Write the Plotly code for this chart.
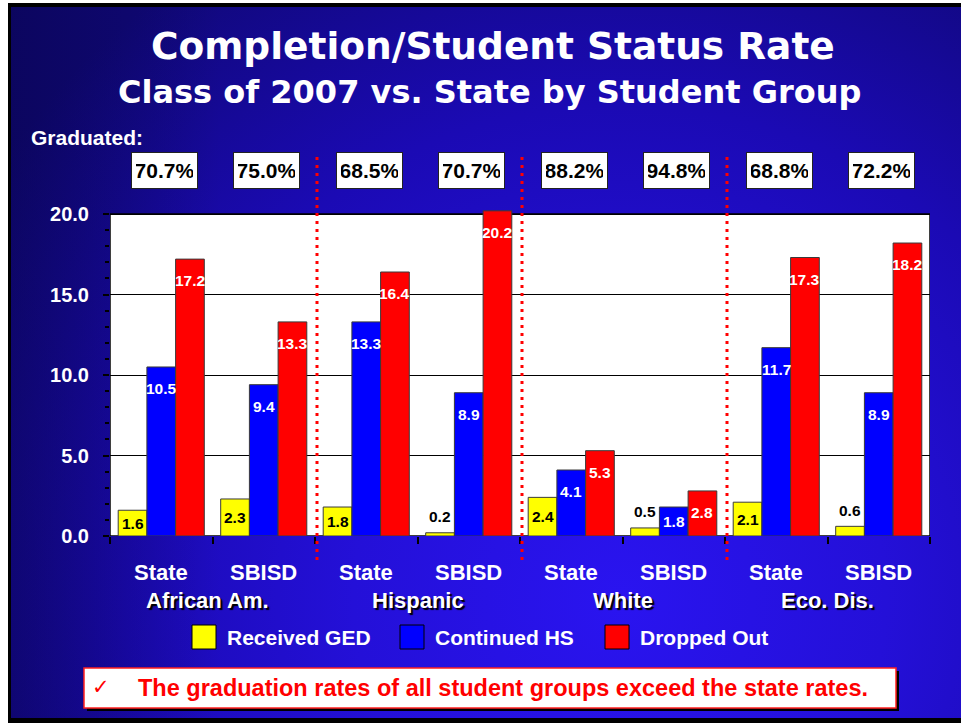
import base64
import plotly.graph_objects as go

# ---------------- data ----------------
groups = ["African Am.", "Hispanic", "White", "Eco. Dis."]
bar_labels = ["State", "SBISD", "State", "SBISD", "State", "SBISD", "State", "SBISD"]
graduated = [70.7, 75.0, 68.5, 70.7, 88.2, 94.8, 68.8, 72.2]
ged = [1.6, 2.3, 1.8, 0.2, 2.4, 0.5, 2.1, 0.6]
continued = [10.5, 9.4, 13.3, 8.9, 4.1, 1.8, 11.7, 8.9]
dropped = [17.2, 13.3, 16.4, 20.2, 5.3, 2.8, 17.3, 18.2]
series_names = ["Received GED", "Continued HS", "Dropped Out"]
series_values = [ged, continued, dropped]
y_ticks = [0, 5, 10, 15, 20]

# ---------------- style ----------------
COLORS = ["#FFFF00", "#0000FF", "#FF0000"]
LABEL_COLORS = ["black", "white", "white"]
BARGAP = 0.16
FW, FH = 961, 723
L, T, W, H = 110, 206, 820, 330
YMAX = 20.5
ARIAL = "Liberation Sans, Arial, sans-serif"


def fx(p):
    return (p - L) / W


def fy(p):
    return (T + H - p) / H


xs = list(range(len(bar_labels)))

fig = go.Figure()
for name, vals, col in zip(series_names, series_values, COLORS):
    fig.add_trace(go.Bar(
        x=xs, y=vals, name=name, marker=dict(color=col, line=dict(color="#3a3a3a", width=1)),
        showlegend=False, hoverinfo="skip",
    ))

# background (gradient panel with border)
svg = f"""<svg xmlns='http://www.w3.org/2000/svg' width='{FW}' height='{FH}' viewBox='0 0 {FW} {FH}' preserveAspectRatio='none'>
<defs>
<radialGradient id='g' gradientUnits='userSpaceOnUse' cx='620' cy='600' r='760'>
<stop offset='0' stop-color='#2a14f0'/>
<stop offset='0.35' stop-color='#2410d8'/>
<stop offset='0.65' stop-color='#1b0ab4'/>
<stop offset='1' stop-color='#100878'/>
</radialGradient>
<linearGradient id='l' x1='0' y1='0' x2='1' y2='0'>
<stop offset='0' stop-color='#05023a' stop-opacity='0.4'/>
<stop offset='0.22' stop-color='#05023a' stop-opacity='0'/>
</linearGradient>
</defs>
<rect width='{FW}' height='{FH}' fill='white'/>
<rect x='8' y='3' width='{FW-8}' height='{FH-3}' fill='black'/>
<rect x='11' y='7' width='{FW-11}' height='711' fill='url(#g)'/>
<rect x='11' y='7' width='{FW-11}' height='711' fill='url(#l)'/>
</svg>"""
src = "data:image/svg+xml;base64," + base64.b64encode(svg.encode()).decode()
images = [dict(source=src, xref="paper", yref="paper", x=fx(0), y=fy(0),
               sizex=FW / W, sizey=FH / H, xanchor="left", yanchor="top",
               sizing="stretch", layer="below")]

shapes = []
# white plot frame
shapes.append(dict(type="rect", xref="x", yref="y", x0=-0.5, x1=len(xs) - 0.5, y0=0, y1=20,
                   fillcolor="white", line=dict(color="black", width=1.5), layer="below"))
# dotted separators between student groups
for gi in range(1, len(groups)):
    xb = 2 * gi - 0.5
    xp = fx(L + (xb + 0.5) * W / len(xs) + 2)
    shapes.append(dict(type="line", xref="paper", yref="paper", x0=xp, x1=xp,
                       y0=fy(157), y1=fy(560),
                       line=dict(color="#FF0000", width=3, dash="3px,5px"), layer="above"))

annotations = []


def ann(**kw):
    kw.setdefault("showarrow", False)
    kw.setdefault("xanchor", "center")
    kw.setdefault("yanchor", "middle")
    annotations.append(kw)


bw = (1 - BARGAP) / 3
# value labels
for k, (vals, lc) in enumerate(zip(series_values, LABEL_COLORS)):
    for i, v in enumerate(vals):
        if v >= 1:
            yy = max(v - 1.35, v / 2)
            c = lc
        else:
            yy = v + 1.0
            c = "black"
        ann(x=i + (k - 1) * bw, y=yy, xref="x", yref="y", text=f"{v:.1f}",
            font=dict(family=ARIAL, size=15.5, color=c, weight="bold"))
# graduated boxes
for i, g in enumerate(graduated):
    ann(x=i, y=fy(170), xref="x", yref="paper", text=f"{g:.1f}%",
        xshift=3, bgcolor="white", bordercolor="#222",
        borderwidth=1, borderpad=4, width=57, height=27,
        font=dict(family=ARIAL, size=21, color="black", weight="bold"))
ann(x=fx(29), y=fy(137), xref="paper", yref="paper", text="Graduated:", xanchor="left",
    font=dict(family=ARIAL, size=21, color="white", weight="bold"))
# x labels
for i, lab in enumerate(bar_labels):
    ann(x=i, y=fy(572), xref="x", yref="paper", text=lab,
        font=dict(family=ARIAL, size=22, color="white", weight="bold"))
for gi, gname in enumerate(groups):
    ann(x=2 * gi + 0.5, y=fy(600), xref="x", yref="paper", text=gname,
        xshift=-5 if gi == 0 else 0,
        font=dict(family=ARIAL, size=22, color="white", weight="bold",
                  shadow="2px 2px 1px black"))
# titles
ann(x=fx(493), y=fy(46), xref="paper", yref="paper",
    text="Completion/Student Status Rate",
    font=dict(family="DejaVu Sans, sans-serif", size=37.5, color="white", weight="bold"))
ann(x=fx(489), y=fy(92), xref="paper", yref="paper",
    text="Class of 2007 vs. State by Student Group",
    font=dict(family="DejaVu Sans, sans-serif", size=32, color="white", weight="bold"))

# legend (manual)
leg_x = [192, 400, 605]
for name, col, lx in zip(series_names, COLORS, leg_x):
    shapes.append(dict(type="rect", xref="paper", yref="paper", x0=fx(lx), x1=fx(lx + 24),
                       y0=fy(625), y1=fy(649), fillcolor=col, line=dict(color="black", width=1)))
    ann(x=fx(lx + 33), y=fy(637), xref="paper", yref="paper", text=name, xanchor="left",
        font=dict(family=ARIAL, size=21, color="white", weight="bold"))

# note box
shapes.append(dict(type="rect", xref="paper", yref="paper", x0=fx(87), x1=fx(899), y0=fy(671), y1=fy(711),
                   fillcolor="black", line=dict(width=0)))
shapes.append(dict(type="rect", xref="paper", yref="paper", x0=fx(84), x1=fx(896), y0=fy(668), y1=fy(708),
                   fillcolor="white", line=dict(color="#FF2020", width=1.5)))
ann(x=fx(101), y=fy(687), xref="paper", yref="paper", text="✓",
    font=dict(family="DejaVu Sans, sans-serif", size=21, color="#FF0000"))
ann(x=fx(503), y=fy(688), xref="paper", yref="paper",
    text="The graduation rates of all student groups exceed the state rates.",
    font=dict(family=ARIAL, size=23.5, color="#FF0000", weight="bold"))

fig.update_layout(
    width=FW, height=FH, autosize=False,
    margin=dict(l=L, r=FW - L - W, t=T, b=FH - T - H, pad=0),
    paper_bgcolor="white", plot_bgcolor="rgba(0,0,0,0)",
    barmode="group", bargap=BARGAP, bargroupgap=0,
    images=images, shapes=shapes, annotations=annotations,
    xaxis=dict(range=[-0.5, len(xs) - 0.5], tickmode="array",
               tickvals=[i - 0.5 for i in range(len(xs) + 1)], ticktext=[""] * (len(xs) + 1),
               ticks="outside", ticklen=7, tickcolor="black", tickwidth=1.5,
               showgrid=False, zeroline=False, showline=False, fixedrange=True),
    yaxis=dict(range=[0, YMAX], tickmode="array", tickvals=y_ticks,
               ticktext=[f"{t:.1f}" for t in y_ticks],
               ticks="outside", ticklen=6, tickcolor="black", tickwidth=1.5,
               minor=dict(dtick=1, tick0=0, ticks="outside", ticklen=4, tickcolor="black", showgrid=False),
               showgrid=True, gridcolor="black", gridwidth=1, zeroline=False, showline=False,
               tickfont=dict(family=ARIAL, size=20, color="white", weight="bold"),
               ticklabelstandoff=10, fixedrange=True),
)

fig.write_html("out.html", config={"displayModeBar": False},
               post_script="document.body.style.margin='0';document.body.style.overflow='hidden';")
